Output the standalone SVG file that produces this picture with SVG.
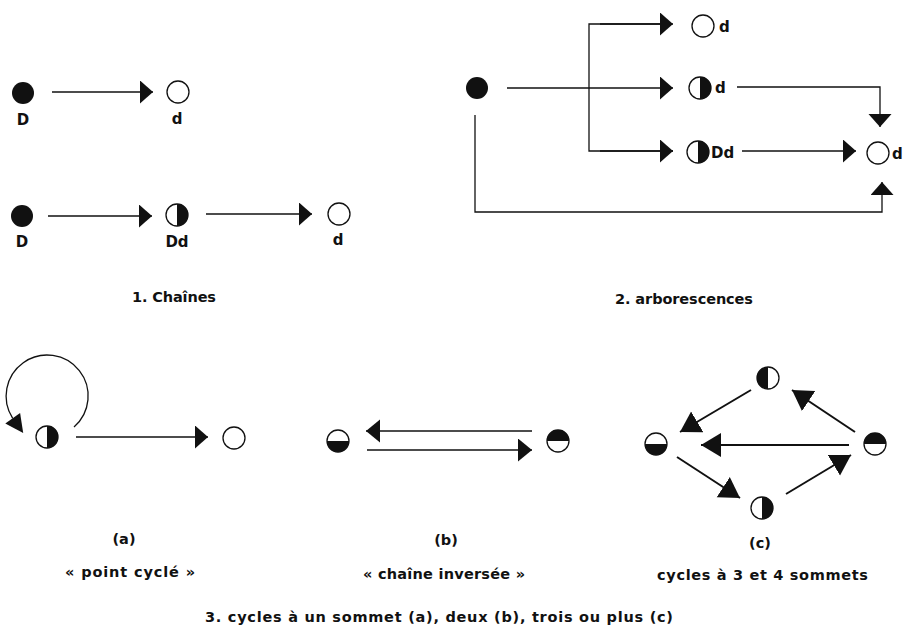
<svg xmlns="http://www.w3.org/2000/svg" xmlns:xlink="http://www.w3.org/1999/xlink" width="909" height="637" viewBox="0 0 909 637">
<style>
.ln{fill:none;stroke:#111;stroke-width:1.3}
.lnb{fill:none;stroke:#111;stroke-width:2}
.hd{fill:#111;stroke:none}
.lbl{font-family:"DejaVu Sans","Liberation Sans",Arial,sans-serif;font-weight:bold;font-size:15px;fill:#111}
.cap{font-family:"DejaVu Sans","Liberation Sans",Arial,sans-serif;font-weight:bold;font-size:14.5px;fill:#111}
</style>
<defs>
<marker id="ah" markerUnits="userSpaceOnUse" markerWidth="14" markerHeight="24" refX="13" refY="11.5" orient="auto" viewBox="0 0 14 24"><path d="M0,0 L13,11.5 L0,23 z" fill="#111"/></marker>
<marker id="ahs" markerUnits="userSpaceOnUse" markerWidth="15" markerHeight="24" refX="14" refY="11.5" orient="auto" viewBox="0 0 15 24"><path d="M0,0 L14,11.5 L0,23 z" fill="#111"/></marker>
<marker id="ahb" markerUnits="userSpaceOnUse" markerWidth="21" markerHeight="25" refX="20" refY="12" orient="auto" viewBox="0 0 21 25"><path d="M0,0 L20,12 L0,24 z" fill="#111"/></marker>
<g id="gFull"><circle r="11" fill="#111"/></g>
<g id="gOpen"><circle r="11" fill="#fff" stroke="#111" stroke-width="1.3"/></g>
<g id="gR"><circle r="11" fill="#fff" stroke="#111" stroke-width="1.3"/><path d="M0,-11 A11,11 0 0 1 0,11 Z" fill="#111"/></g>
<g id="gL"><circle r="11" fill="#fff" stroke="#111" stroke-width="1.3"/><path d="M0,-11 A11,11 0 0 0 0,11 Z" fill="#111"/></g>
<g id="gT"><circle r="11" fill="#fff" stroke="#111" stroke-width="1.3"/><path d="M-11,0 A11,11 0 0 1 11,0 Z" fill="#111"/></g>
<g id="gB"><circle r="11" fill="#fff" stroke="#111" stroke-width="1.3"/><path d="M-11,0 A11,11 0 0 0 11,0 Z" fill="#111"/></g>
</defs>
<rect width="909" height="637" fill="#fff"/>

<!-- connectors -->
<g id="connectors">
  <!-- 1. chaines -->
  <line class="ln" x1="52" y1="92" x2="153" y2="92" marker-end="url(#ah)"/>
  <line class="ln" x1="48" y1="216" x2="152" y2="216" marker-end="url(#ah)"/>
  <line class="ln" x1="206" y1="214" x2="312" y2="214" marker-end="url(#ah)"/>
  <!-- 2. arborescences -->
  <line class="ln" x1="507" y1="88" x2="673" y2="88" marker-end="url(#ah)"/>
  <path class="ln" d="M660,24 H589 V151 H673" />
  <line class="ln" x1="600" y1="24" x2="673" y2="24" marker-end="url(#ah)"/>
  <line class="ln" x1="600" y1="151" x2="673" y2="151" marker-end="url(#ah)"/>
  <path class="ln" d="M737,87 H880 V127" marker-end="url(#ah)"/>
  <line class="ln" x1="742" y1="151" x2="856" y2="151" marker-end="url(#ah)"/>
  <path class="ln" d="M475,115 V212 H882 V182" marker-end="url(#ah)"/>
  <!-- 3a -->
  <path class="ln" d="M74,427 A41,41 0 1 0 12.7,418.3" />
  <polygon class="hd" points="20.1,413.1 5.3,423.5 23.2,433"/>
  <line class="ln" x1="76" y1="437" x2="208" y2="437" marker-end="url(#ah)"/>
  <!-- 3b -->
  <line class="ln" x1="532" y1="431" x2="366" y2="431" marker-end="url(#ahs)"/>
  <line class="ln" x1="367" y1="450" x2="532" y2="450" marker-end="url(#ahs)"/>
  <!-- 3c -->
  <line class="lnb" x1="751" y1="390" x2="680" y2="432" marker-end="url(#ahb)"/>
  <line class="lnb" x1="855" y1="432" x2="792" y2="390" marker-end="url(#ahb)"/>
  <line class="lnb" x1="849" y1="445" x2="701" y2="445" marker-end="url(#ahb)"/>
  <line class="lnb" x1="677" y1="457" x2="740" y2="498" marker-end="url(#ahb)"/>
  <line class="lnb" x1="786" y1="494" x2="851" y2="455" marker-end="url(#ahb)"/>
</g>

<!-- 1. chaines nodes -->
<g id="c1-D"><use xlink:href="#gFull" x="23" y="93"/><text class="lbl" x="23" y="125" text-anchor="middle">D</text></g>
<g id="c1-d"><use xlink:href="#gOpen" x="178" y="92"/><text class="lbl" x="177" y="124" text-anchor="middle">d</text></g>
<g id="c2-D"><use xlink:href="#gFull" x="22" y="216"/><text class="lbl" x="22" y="247" text-anchor="middle">D</text></g>
<g id="c2-Dd"><use xlink:href="#gR" x="177" y="215"/><text class="lbl" x="177" y="247" text-anchor="middle">Dd</text></g>
<g id="c2-d"><use xlink:href="#gOpen" x="339" y="214"/><text class="lbl" x="338" y="245" text-anchor="middle">d</text></g>
<text class="cap" x="132" y="302" textLength="84" lengthAdjust="spacing">1. Chaînes</text>

<!-- 2. arborescences nodes -->
<g id="a-root"><use xlink:href="#gFull" x="477" y="88"/></g>
<g id="a-top"><use xlink:href="#gOpen" x="703" y="26"/><text class="lbl" x="719" y="32">d</text></g>
<g id="a-mid"><use xlink:href="#gR" x="700" y="88"/><text class="lbl" x="715" y="93">d</text></g>
<g id="a-bot"><use xlink:href="#gR" x="698" y="152"/><text class="lbl" x="711" y="158">Dd</text></g>
<g id="a-end"><use xlink:href="#gOpen" x="878" y="153"/><text class="lbl" x="892" y="159">d</text></g>
<text class="cap" x="615" y="304" textLength="138" lengthAdjust="spacing">2. arborescences</text>

<!-- 3a -->
<g id="p-a1"><use xlink:href="#gR" x="47" y="437"/></g>
<g id="p-a2"><use xlink:href="#gOpen" x="234" y="438"/></g>
<text class="cap" x="124" y="544" text-anchor="middle">(a)</text>
<text class="cap" x="65" y="577" textLength="130" lengthAdjust="spacing">« point cyclé »</text>

<!-- 3b -->
<g id="p-b1"><use xlink:href="#gB" x="338" y="441"/></g>
<g id="p-b2"><use xlink:href="#gT" x="558" y="441"/></g>
<text class="cap" x="446" y="545" text-anchor="middle">(b)</text>
<text class="cap" x="363" y="579" textLength="162" lengthAdjust="spacing">« chaîne inversée »</text>

<!-- 3c -->
<g id="p-c-top"><use xlink:href="#gL" x="768" y="378"/></g>
<g id="p-c-left"><use xlink:href="#gB" x="656" y="444"/></g>
<g id="p-c-right"><use xlink:href="#gT" x="875" y="444"/></g>
<g id="p-c-bot"><use xlink:href="#gR" x="762" y="508"/></g>
<text class="cap" x="760" y="548" text-anchor="middle">(c)</text>
<text class="cap" x="657" y="580" textLength="211" lengthAdjust="spacing">cycles à 3 et 4 sommets</text>

<text class="cap" x="205" y="622" textLength="468" lengthAdjust="spacing">3. cycles à un sommet (a), deux (b), trois ou plus (c)</text>
</svg>
